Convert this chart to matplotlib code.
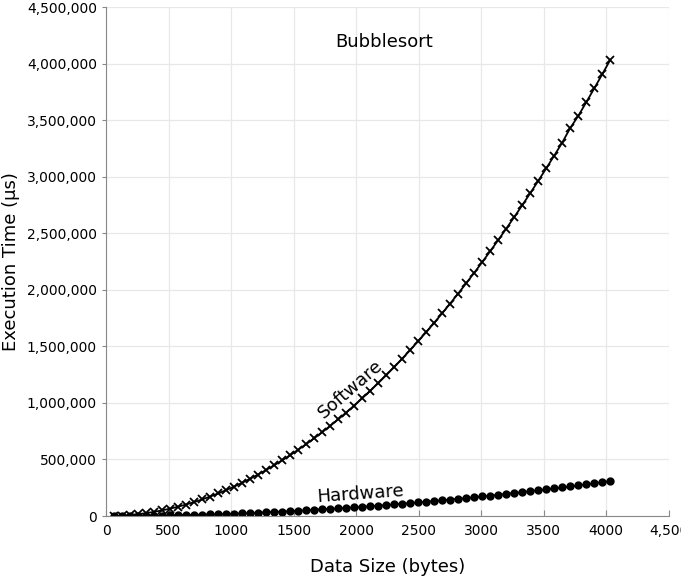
import numpy as np
from matplotlib import pyplot as plt
from matplotlib.ticker import FuncFormatter

# data size in bytes (step of 64)
sizes = [64 * k for k in range(1, 64)]

software_us = [1000, 4000, 9100, 16300, 25400, 36600, 49800, 65000, 82300, 101600,
               123000, 146300, 171700, 199100, 228600, 260100, 293600, 329200, 366800, 406400,
               448100, 491700, 537500, 585200, 635000, 686800, 740700, 796500, 854500, 914400,
               976400, 1040400, 1106400, 1174500, 1244600, 1316700, 1390900, 1467100, 1545300, 1625600,
               1707900, 1792200, 1878600, 1967000, 2057400, 2149900, 2244300, 2340900, 2439400, 2540000,
               2642600, 2747300, 2853900, 2962700, 3073400, 3186200, 3301000, 3430000, 3536700, 3657600,
               3780500, 3905500, 4032500]

hardware_us = [200, 500, 1000, 1600, 2400, 3300, 4400, 5700, 7100, 8600,
               10300, 12100, 14100, 16300, 18600, 21100, 23700, 26400, 29300, 32400,
               35600, 39000, 42500, 46200, 50000, 54000, 58100, 62400, 66800, 71400,
               76100, 81000, 86100, 91300, 96600, 102100, 107700, 113500, 119500, 125600,
               131900, 138300, 144800, 151500, 158400, 165400, 172600, 179900, 187400, 195000,
               202800, 210700, 218800, 227000, 235400, 243900, 252600, 261500, 270500, 279600,
               288900, 298300, 307900]

fig = plt.figure(figsize=(6.81, 5.79), dpi=100)
ax = fig.add_axes([0.1557, 0.1088, 0.8263, 0.879])

ax.plot(sizes, software_us, color='black', lw=1.3, marker='x', ms=6, mew=1.3)
ax.plot(sizes, hardware_us, color='black', lw=1.3, marker='o', ms=5)

ax.set_xlim(0, 4500)
ax.set_ylim(0, 4500000)
ax.set_xticks(np.arange(0, 4501, 500))
ax.set_yticks(np.arange(0, 4500001, 500000))
ax.xaxis.set_major_formatter(FuncFormatter(lambda v, p: '{:,}'.format(int(v)) if v >= 4500 else str(int(v))))
ax.yaxis.set_major_formatter(FuncFormatter(lambda v, p: '{:,}'.format(int(v))))

ax.grid(True, color='#e8e8e8', lw=0.9)
ax.set_axisbelow(True)
for s in ['top', 'right']:
    ax.spines[s].set_visible(False)
for s in ['left', 'bottom']:
    ax.spines[s].set_color('#888888')
ax.tick_params(axis='x', direction='in', length=4, color='#888888', labelsize=10, pad=6)
ax.tick_params(axis='y', direction='out', length=3, color='#888888', labelsize=10)

ax.set_xlabel('Data Size (bytes)', fontsize=13, labelpad=14)
ax.set_ylabel('Execution Time (µs)', fontsize=13)
ax.yaxis.set_label_coords(-0.152, 0.5)

ax.text(2220, 4190000, 'Bubblesort', fontsize=13, ha='center', va='center')
ax.text(1958, 1120000, 'Software', fontsize=13, ha='center', va='center', rotation=41)
ax.text(2038, 194000, 'Hardware', fontsize=13, ha='center', va='center', rotation=4)

fig.savefig('out.png', dpi=100)
